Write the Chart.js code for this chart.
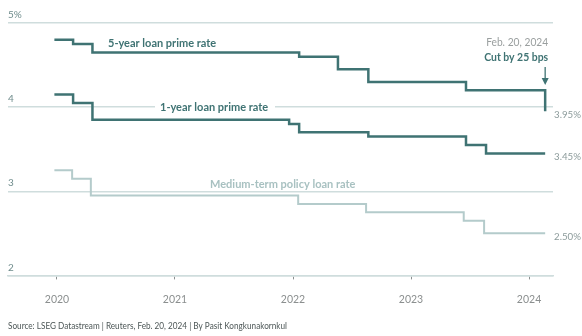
<!DOCTYPE html>
<html>
<head>
<meta charset="utf-8">
<script src="https://cdn.jsdelivr.net/npm/chart.js@4.4.1/dist/chart.umd.min.js"></script>
<style>
  html, body { margin: 0; padding: 0; background: #ffffff; }
  #wrap { width: 582px; height: 336px; position: relative; }
</style>
</head>
<body>
<div id="wrap"><canvas id="c" width="582" height="336"></canvas></div>
<script>
// China benchmark rates, % (value takes effect on the given date)
const lpr5Dates   = ['2019-12-24','2020-02-20','2020-04-20','2022-01-20','2022-05-20','2022-08-22','2023-06-20','2024-02-20'];
const lpr5Values  = [4.80, 4.75, 4.65, 4.60, 4.45, 4.30, 4.20, 3.95];

const lpr1Dates   = ['2019-12-24','2020-02-20','2020-04-20','2021-12-20','2022-01-20','2022-08-22','2023-06-20','2023-08-21','2024-02-20'];
const lpr1Values  = [4.15, 4.05, 3.85, 3.80, 3.70, 3.65, 3.55, 3.45, 3.45];

const mlfDates    = ['2019-12-24','2020-02-17','2020-04-15','2022-01-17','2022-08-15','2023-06-13','2023-08-15','2024-02-20'];
const mlfValues   = [3.25, 3.15, 2.95, 2.85, 2.75, 2.65, 2.50, 2.50];

const yearTicks   = [2020, 2021, 2022, 2023, 2024];
const rateTicks   = [2, 3, 4, 5];

const seriesNames = ['5-year loan prime rate', '1-year loan prime rate', 'Medium-term policy loan rate'];
const endLabels   = ['3.95%', '3.45%', '2.50%'];
const cutDate     = 'Feb. 20, 2024';
const cutNote     = 'Cut by 25 bps';
const sourceNote  = 'Source: LSEG Datastream | Reuters, Feb. 20, 2024 | By Pasit Kongkunakornkul';

// date string -> fractional year
function toYear(s) {
  const [y, m, d] = s.split('-').map(Number);
  const start = Date.UTC(y, 0, 1), end = Date.UTC(y + 1, 0, 1);
  return y + (Date.UTC(y, m - 1, d) - start) / (end - start);
}
const pts = (dates, vals) => dates.map((d, i) => ({ x: toYear(d), y: vals[i] }));

const DARK = '#3f7373';
const LIGHT = '#b4cbcb';
const GRID = '#cfdddd';
const FONT = 'Lato, "Open Sans", sans-serif';

const annotations = {
  id: 'annotations',
  afterDatasetsDraw(chart) {
    const { ctx } = chart;
    const xs = chart.scales.x, ys = chart.scales.y;
    const px = v => xs.getPixelForValue(v);
    const py = v => ys.getPixelForValue(v);
    ctx.save();
    ctx.textBaseline = 'middle';

    // series names
    ctx.font = 'bold 11px ' + FONT;
    ctx.fillStyle = DARK;
    ctx.textAlign = 'left';
    ctx.fillText(seriesNames[0], 108, py(lpr5Values[2]) - 9, 111);

    // 1-year name sits on the 4% gridline with a gap cut out behind it
    const y4 = py(4);
    ctx.fillStyle = '#ffffff';
    ctx.fillRect(155, y4 - 3, 120, 6);
    ctx.fillStyle = DARK;
    ctx.fillText(seriesNames[1], 160, y4, 110);

    ctx.fillStyle = '#a8c1c1';
    ctx.fillText(seriesNames[2], 210, py(3) - 7, 148);

    // latest values at line ends
    ctx.font = '10px ' + FONT;
    ctx.fillStyle = '#8c9b9b';
    const endX = xs.right + 1;
    ctx.fillText(endLabels[0], endX, py(lpr5Values[lpr5Values.length - 1]) + 3, 27);
    ctx.fillText(endLabels[1], endX, py(lpr1Values[lpr1Values.length - 1]) + 3, 27);
    ctx.fillText(endLabels[2], endX, py(mlfValues[mlfValues.length - 1]) + 3, 27);

    // rate-cut callout
    const cx = px(toYear('2024-02-20'));
    ctx.textAlign = 'right';
    ctx.font = '10.5px ' + FONT;
    ctx.fillStyle = '#9a9f9f';
    ctx.fillText(cutDate, cx + 3, 43, 62);
    ctx.font = 'bold 11px ' + FONT;
    ctx.fillStyle = DARK;
    ctx.fillText(cutNote, cx + 3, 57, 64);

    ctx.strokeStyle = DARK;
    ctx.lineWidth = 1.3;
    ctx.beginPath();
    ctx.moveTo(cx, 67);
    ctx.lineTo(cx, 82);
    ctx.stroke();
    ctx.fillStyle = DARK;
    ctx.beginPath();
    ctx.moveTo(cx - 3.5, 78);
    ctx.lineTo(cx + 3.5, 78);
    ctx.lineTo(cx, 85);
    ctx.closePath();
    ctx.fill();

    // source line
    ctx.textAlign = 'left';
    ctx.font = '9px ' + FONT;
    ctx.fillStyle = '#4d5757';
    ctx.fillText(sourceNote, 8, 326, 279);
    ctx.restore();
  }
};

new Chart(document.getElementById('c'), {
  type: 'line',
  data: {
    datasets: [
      { label: seriesNames[2], data: pts(mlfDates, mlfValues), borderColor: LIGHT, borderWidth: 2 },
      { label: seriesNames[1], data: pts(lpr1Dates, lpr1Values), borderColor: DARK, borderWidth: 2.5 },
      { label: seriesNames[0], data: pts(lpr5Dates, lpr5Values), borderColor: DARK, borderWidth: 2.5 }
    ].map(d => Object.assign(d, { stepped: true, pointRadius: 0, fill: false, tension: 0, borderCapStyle: 'butt', borderJoinStyle: 'miter' }))
  },
  options: {
    responsive: false,
    animation: false,
    events: [],
    layout: { padding: { left: 8, right: 29, top: 23, bottom: 16 } },
    plugins: { legend: { display: false }, tooltip: { enabled: false } },
    scales: {
      x: {
        type: 'linear',
        min: 2019.585,
        max: 2024.203,
        afterBuildTicks: s => { s.ticks = yearTicks.map(v => ({ value: v })); },
        grid: { drawOnChartArea: false, drawTicks: true, tickLength: 4, tickWidth: 1, color: '#8a8f8f' },
        border: { display: true, color: GRID, width: 1.5 },
        ticks: { padding: 14, color: '#8b8f8f', font: { family: FONT, size: 10.5 }, callback: v => String(v), maxRotation: 0 }
      },
      y: {
        min: 2,
        max: 5,
        afterBuildTicks: s => { s.ticks = rateTicks.map(v => ({ value: v })); },
        grid: { color: GRID, lineWidth: 1.5, drawTicks: false },
        border: { display: false },
        ticks: {
          mirror: true, padding: 0, labelOffset: -8,
          color: '#6f8c8c', font: { family: FONT, size: 10 },
          callback: v => (v === 5 ? v + '%' : String(v))
        }
      }
    }
  },
  plugins: [annotations]
});
</script>
</body>
</html>
